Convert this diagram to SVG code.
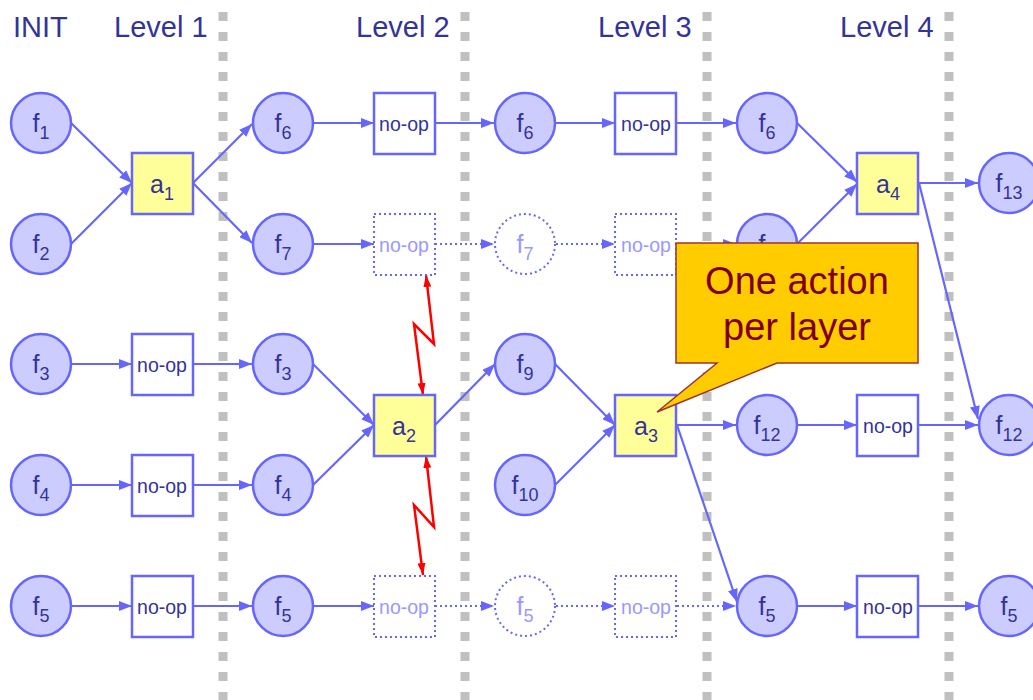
<svg xmlns="http://www.w3.org/2000/svg" width="1033" height="700" viewBox="0 0 1033 700">
<style>
.sep{stroke:#c0c0c0;stroke-width:9;stroke-dasharray:9 11;fill:none}
.lvl{font-family:"Liberation Sans",Arial,sans-serif;font-size:29px;fill:#333399}
.fc{fill:#ccccff;stroke:#6666ff;stroke-width:2.5}
.fd{fill:#ffffff;stroke:#6666ff;stroke-width:2;stroke-dasharray:2 3}
.act{fill:#ffff99;stroke:#6666ff;stroke-width:2.5}
.nop{fill:#ffffff;stroke:#6666ff;stroke-width:2.5}
.nopd{fill:#ffffff;stroke:#6666ff;stroke-width:2;stroke-dasharray:2 3}
.lbl{font-family:"Liberation Sans",Arial,sans-serif;font-size:25px;fill:#333399;text-anchor:middle}
.lbld{font-family:"Liberation Sans",Arial,sans-serif;font-size:25px;fill:#9999ff;text-anchor:middle}
.sub{font-size:18px}
.nt{font-family:"Liberation Sans",Arial,sans-serif;font-size:19.5px;fill:#333399;text-anchor:middle}
.ntd{font-family:"Liberation Sans",Arial,sans-serif;font-size:19.5px;fill:#9999ff;text-anchor:middle}
.e{stroke:#6666ff;stroke-width:2.2;fill:none;marker-end:url(#ah)}
.ed{stroke:#6666ff;stroke-width:2.2;fill:none;stroke-dasharray:2 3;marker-end:url(#ah)}
.red{stroke:#ff0000;stroke-width:2.5;fill:none;marker-start:url(#rh);marker-end:url(#rh)}
.call{fill:#ffcc00;stroke:#993333;stroke-width:1.5}
.ct{font-family:"Liberation Sans",Arial,sans-serif;font-size:38px;fill:#800000;text-anchor:middle}
</style>
<defs>
<marker id="ah" markerUnits="userSpaceOnUse" markerWidth="13" markerHeight="10" refX="13" refY="5" orient="auto"><path d="M0,0 L13,5 L0,10 z" fill="#6666ff"/></marker>
<marker id="rh" markerUnits="userSpaceOnUse" markerWidth="12" markerHeight="8" refX="12" refY="4" orient="auto-start-reverse"><path d="M0,0 L12,4 L0,8 z" fill="#ff0000"/></marker>
</defs>
<rect width="1033" height="700" fill="#ffffff"/>
<g id="separators">
<line class="sep" x1="223" y1="12" x2="223" y2="700"/>
<line class="sep" x1="465" y1="12" x2="465" y2="700"/>
<line class="sep" x1="707" y1="12" x2="707" y2="700"/>
<line class="sep" x1="949" y1="12" x2="949" y2="700"/>
</g>
<g id="headers">
<text class="lvl" x="13" y="37">INIT</text>
<text class="lvl" x="114" y="37">Level 1</text>
<text class="lvl" x="356" y="37">Level 2</text>
<text class="lvl" x="598" y="37">Level 3</text>
<text class="lvl" x="840" y="37">Level 4</text>
</g>
<g id="connectors">
<line class="e" x1="71" y1="123" x2="132" y2="183"/>
<line class="e" x1="71" y1="244" x2="132" y2="183"/>
<line class="e" x1="193" y1="183" x2="252" y2="124"/>
<line class="e" x1="193" y1="183" x2="252" y2="243"/>
<line class="e" x1="71" y1="364" x2="132" y2="364"/>
<line class="e" x1="193" y1="364" x2="252" y2="364"/>
<line class="e" x1="71" y1="485" x2="132" y2="485"/>
<line class="e" x1="193" y1="485" x2="252" y2="485"/>
<line class="e" x1="71" y1="606" x2="132" y2="606"/>
<line class="e" x1="193" y1="606" x2="252" y2="606"/>
<line class="e" x1="313" y1="123" x2="374" y2="123"/>
<line class="e" x1="435" y1="123" x2="494" y2="123"/>
<line class="e" x1="555" y1="123" x2="615" y2="123"/>
<line class="e" x1="677" y1="123" x2="736" y2="123"/>
<line class="e" x1="313" y1="244" x2="374" y2="244"/>
<line class="ed" x1="435" y1="244" x2="494" y2="244"/>
<line class="ed" x1="556" y1="244" x2="615" y2="244"/>
<line class="ed" x1="677" y1="244" x2="736" y2="244"/>
<line class="e" x1="313" y1="364" x2="374" y2="425"/>
<line class="e" x1="313" y1="485" x2="374" y2="425"/>
<line class="e" x1="435" y1="425" x2="495" y2="364"/>
<line class="e" x1="555" y1="364" x2="615" y2="425"/>
<line class="e" x1="555" y1="485" x2="615" y2="425"/>
<line class="e" x1="313" y1="606" x2="374" y2="606"/>
<line class="ed" x1="435" y1="606" x2="494" y2="606"/>
<line class="ed" x1="556" y1="606" x2="615" y2="606"/>
<line class="ed" x1="677" y1="606" x2="736" y2="606"/>
<line class="e" x1="677" y1="425" x2="736" y2="425"/>
<line class="e" x1="677" y1="425" x2="737" y2="602"/>
<line class="e" x1="797" y1="123" x2="857" y2="182"/>
<line class="e" x1="797" y1="244" x2="857" y2="184"/>
<line class="e" x1="797" y1="425" x2="857" y2="425"/>
<line class="e" x1="919" y1="425" x2="978" y2="425"/>
<line class="e" x1="797" y1="606" x2="857" y2="606"/>
<line class="e" x1="919" y1="606" x2="978" y2="606"/>
<line class="e" x1="919" y1="183" x2="978" y2="183"/>
<line class="e" x1="919" y1="183" x2="978" y2="419"/>
<polyline class="red" points="426,275 434,344 414,324 423,395"/>
<polyline class="red" points="426,456 434,527 414,505 423,575"/>
</g>
<g id="n-f1"><circle class="fc" cx="41" cy="123" r="30"/><text class="lbl" x="41" y="132">f<tspan class="sub" dy="7">1</tspan></text></g>
<g id="n-f2"><circle class="fc" cx="41" cy="244" r="30"/><text class="lbl" x="41" y="253">f<tspan class="sub" dy="7">2</tspan></text></g>
<g id="n-f3"><circle class="fc" cx="41" cy="364" r="30"/><text class="lbl" x="41" y="373">f<tspan class="sub" dy="7">3</tspan></text></g>
<g id="n-f4"><circle class="fc" cx="41" cy="485" r="30"/><text class="lbl" x="41" y="494">f<tspan class="sub" dy="7">4</tspan></text></g>
<g id="n-f5"><circle class="fc" cx="41" cy="606" r="30"/><text class="lbl" x="41" y="615">f<tspan class="sub" dy="7">5</tspan></text></g>
<g id="n-a1"><rect class="act" x="132" y="153" width="61" height="61"/><text class="lbl" x="162" y="193">a<tspan class="sub" dy="7">1</tspan></text></g>
<g id="n-noop1-3"><rect class="nop" x="132" y="334" width="61" height="61"/><text class="nt" x="162" y="372">no-op</text></g>
<g id="n-noop1-4"><rect class="nop" x="132" y="455" width="61" height="61"/><text class="nt" x="162" y="493">no-op</text></g>
<g id="n-noop1-5"><rect class="nop" x="132" y="576" width="61" height="61"/><text class="nt" x="162" y="614">no-op</text></g>
<g id="n-f6-1"><circle class="fc" cx="283" cy="123" r="30"/><text class="lbl" x="283" y="132">f<tspan class="sub" dy="7">6</tspan></text></g>
<g id="n-f7-1"><circle class="fc" cx="283" cy="244" r="30"/><text class="lbl" x="283" y="253">f<tspan class="sub" dy="7">7</tspan></text></g>
<g id="n-f3-1"><circle class="fc" cx="283" cy="364" r="30"/><text class="lbl" x="283" y="373">f<tspan class="sub" dy="7">3</tspan></text></g>
<g id="n-f4-1"><circle class="fc" cx="283" cy="485" r="30"/><text class="lbl" x="283" y="494">f<tspan class="sub" dy="7">4</tspan></text></g>
<g id="n-f5-1"><circle class="fc" cx="283" cy="606" r="30"/><text class="lbl" x="283" y="615">f<tspan class="sub" dy="7">5</tspan></text></g>
<g id="n-noop2-1"><rect class="nop" x="374" y="93" width="61" height="61"/><text class="nt" x="404" y="131">no-op</text></g>
<g id="n-noop2-2"><rect class="nopd" x="374" y="214" width="61" height="61"/><text class="ntd" x="404" y="252">no-op</text></g>
<g id="n-a2"><rect class="act" x="374" y="395" width="61" height="61"/><text class="lbl" x="404" y="435">a<tspan class="sub" dy="7">2</tspan></text></g>
<g id="n-noop2-5"><rect class="nopd" x="374" y="576" width="61" height="61"/><text class="ntd" x="404" y="614">no-op</text></g>
<g id="n-f6-2"><circle class="fc" cx="525" cy="123" r="30"/><text class="lbl" x="525" y="132">f<tspan class="sub" dy="7">6</tspan></text></g>
<g id="n-f7-2"><circle class="fd" cx="525" cy="244" r="30"/><text class="lbld" x="525" y="253">f<tspan class="sub" dy="7">7</tspan></text></g>
<g id="n-f9"><circle class="fc" cx="525" cy="364" r="30"/><text class="lbl" x="525" y="373">f<tspan class="sub" dy="7">9</tspan></text></g>
<g id="n-f10"><circle class="fc" cx="525" cy="485" r="30"/><text class="lbl" x="525" y="494">f<tspan class="sub" dy="7">10</tspan></text></g>
<g id="n-f5-2"><circle class="fd" cx="525" cy="606" r="30"/><text class="lbld" x="525" y="615">f<tspan class="sub" dy="7">5</tspan></text></g>
<g id="n-noop3-1"><rect class="nop" x="615" y="93" width="61" height="61"/><text class="nt" x="646" y="131">no-op</text></g>
<g id="n-noop3-2"><rect class="nopd" x="615" y="214" width="61" height="61"/><text class="ntd" x="646" y="252">no-op</text></g>
<g id="n-a3"><rect class="act" x="615" y="395" width="61" height="61"/><text class="lbl" x="646" y="435">a<tspan class="sub" dy="7">3</tspan></text></g>
<g id="n-noop3-5"><rect class="nopd" x="615" y="576" width="61" height="61"/><text class="ntd" x="646" y="614">no-op</text></g>
<g id="n-f6-3"><circle class="fc" cx="767" cy="123" r="30"/><text class="lbl" x="767" y="132">f<tspan class="sub" dy="7">6</tspan></text></g>
<g id="n-f7-3"><circle class="fc" cx="767" cy="244" r="30"/><text class="lbl" x="767" y="253">f<tspan class="sub" dy="7">7</tspan></text></g>
<g id="n-f12-3"><circle class="fc" cx="767" cy="425" r="30"/><text class="lbl" x="767" y="434">f<tspan class="sub" dy="7">12</tspan></text></g>
<g id="n-f5-3"><circle class="fc" cx="767" cy="606" r="30"/><text class="lbl" x="767" y="615">f<tspan class="sub" dy="7">5</tspan></text></g>
<g id="n-a4"><rect class="act" x="857" y="153" width="61" height="61"/><text class="lbl" x="888" y="193">a<tspan class="sub" dy="7">4</tspan></text></g>
<g id="n-noop4-3"><rect class="nop" x="857" y="395" width="61" height="61"/><text class="nt" x="888" y="433">no-op</text></g>
<g id="n-noop4-5"><rect class="nop" x="857" y="576" width="61" height="61"/><text class="nt" x="888" y="614">no-op</text></g>
<g id="n-f13"><circle class="fc" cx="1009" cy="183" r="30"/><text class="lbl" x="1009" y="192">f<tspan class="sub" dy="7">13</tspan></text></g>
<g id="n-f12-4"><circle class="fc" cx="1009" cy="425" r="30"/><text class="lbl" x="1009" y="434">f<tspan class="sub" dy="7">12</tspan></text></g>
<g id="n-f5-4"><circle class="fc" cx="1009" cy="606" r="30"/><text class="lbl" x="1009" y="615">f<tspan class="sub" dy="7">5</tspan></text></g>
<g id="callout">
<path class="call" d="M676,243 H918 V363 H777 L657,412 L717,363 H676 Z"/>
<text class="ct" x="797" y="294">One action</text>
<text class="ct" x="797" y="340">per layer</text>
</g>
</svg>
